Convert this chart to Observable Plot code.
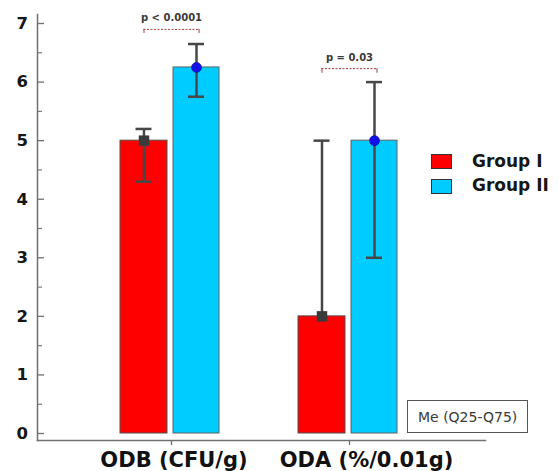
<!DOCTYPE html>
<html><head><meta charset="utf-8">
<script src="https://cdn.jsdelivr.net/npm/d3@7"></script>
<script src="https://cdn.jsdelivr.net/npm/@observablehq/plot@0.6"></script>
<style>
html,body{margin:0;padding:0;background:#fff;}
#wrap{position:relative;width:558px;height:471px;font-family:"DejaVu Sans",sans-serif;}
#wrap svg{position:absolute;left:0;top:0;}
.sw{position:absolute;width:21px;height:15px;box-sizing:border-box;border:1px solid #333;}
.lt{position:absolute;font-weight:bold;font-size:17px;line-height:1;color:#161616;white-space:nowrap;}
#me{position:absolute;left:407px;top:400px;width:121px;height:33px;box-sizing:border-box;border:1px solid #555;font-size:14px;line-height:1;color:#3a3a3a;display:flex;align-items:center;padding-left:10px;white-space:nowrap;}
</style></head><body><div id="wrap"></div>
<script>
// Categories and groups
const categories = ["ODB (CFU/g)", "ODA (%/0.01g)"];
const groups = ["Group I", "Group II"];
const groupColors = ["#ff0000", "#00ccff"];
// Group I: median and interquartile range
const medianI = [5, 2];
const q25I = [4.3, 2];
const q75I = [5.2, 5];
// Group II: median and interquartile range
const medianII = [6.25, 5];
const q25II = [5.75, 3];
const q75II = [6.65, 6];
// p-value annotations
const pLabels = ["p < 0.0001", "p = 0.03"];
const pLabelLevel = [7.1, 6.42];
const bracketTop = [6.9, 6.23];
const bracketEnd = [6.83, 6.15];
// axis ticks
const yTicks = [0, 1, 2, 3, 4, 5, 6, 7];
const yMinorTicks = [0.5, 1.5, 2.5, 3.5, 4.5, 5.5, 6.5];
const noteText = "Me (Q25-Q75)";

const rowsI = categories.map((c, i) => ({category: c, median: medianI[i], q25: q25I[i], q75: q75I[i]}));
const rowsII = categories.map((c, i) => ({category: c, median: medianII[i], q25: q25II[i], q75: q75II[i]}));
const rowsP = categories.map((c, i) => ({category: c, label: pLabels[i], level: pLabelLevel[i], top: bracketTop[i], end: bracketEnd[i]}));

const axisColor = "#707070";
const errColor = "#474747";
const bracketColor = "#a83a3a";
const lowerCap = d => d.q25 < d.median;

const chart = Plot.plot({
  width: 558, height: 471,
  marginTop: 14, marginBottom: 31, marginLeft: 37, marginRight: 73,
  style: {fontFamily: "DejaVu Sans, sans-serif", background: "white", overflow: "visible"},
  x: {type: "band", domain: categories, paddingInner: 0, paddingOuter: 0.2584, align: 0.489, axis: null},
  y: {domain: [-0.1195, 7.154], axis: null},
  marks: [
    Plot.frame({anchor: "left", stroke: axisColor, strokeWidth: 1.5}),
    Plot.frame({anchor: "bottom", stroke: axisColor, strokeWidth: 1.5}),
    Plot.axisY({ticks: yTicks, tickSize: -7, tickFormat: () => "", label: null, stroke: axisColor, strokeWidth: 1.3}),
    Plot.axisY({ticks: yMinorTicks, tickSize: -5, tickFormat: () => "", label: null, stroke: axisColor, strokeWidth: 1.1}),
    Plot.axisY({ticks: yTicks, tickSize: 0, tickPadding: 9.5, tickFormat: d => String(d), label: null, fontSize: 16.5, fontWeight: "bold", fill: "#161616"}),
    Plot.axisX({tickSize: 5, tickFormat: () => "", label: null, stroke: axisColor, strokeWidth: 1.3}),
    Plot.text([categories[0]], {x: d => d, frameAnchor: "bottom", dy: 26, dx: 2.5, lineAnchor: "bottom", fontSize: 21, fontWeight: "bold", fill: "#111"}),
    Plot.text([categories[1]], {x: d => d, frameAnchor: "bottom", dy: 26, dx: 17, lineAnchor: "bottom", fontSize: 21, fontWeight: "bold", fill: "#111"}),
    Plot.barY(rowsI, {x: "category", y: "median", fill: groupColors[0], stroke: "#505050", strokeWidth: 1, insetLeft: 38, insetRight: 93}),
    Plot.barY(rowsII, {x: "category", y: "median", fill: groupColors[1], stroke: "#606060", strokeWidth: 1, insetLeft: 91, insetRight: 41}),
    Plot.ruleX(rowsI, {x: "category", y1: "q25", y2: "q75", dx: -27.5, stroke: errColor, strokeWidth: 2.5}),
    Plot.ruleX(rowsII, {x: "category", y1: "q25", y2: "q75", dx: 25, stroke: errColor, strokeWidth: 2.5}),
    Plot.tickY(rowsI, {x: "category", y: "q75", insetLeft: 53.5, insetRight: 108.5, stroke: errColor, strokeWidth: 2.5}),
    Plot.tickY(rowsI, {x: "category", y: "q25", filter: lowerCap, insetLeft: 53.5, insetRight: 108.5, stroke: errColor, strokeWidth: 2.5}),
    Plot.tickY(rowsII, {x: "category", y: "q75", insetLeft: 106, insetRight: 56, stroke: errColor, strokeWidth: 2.5}),
    Plot.tickY(rowsII, {x: "category", y: "q25", filter: lowerCap, insetLeft: 106, insetRight: 56, stroke: errColor, strokeWidth: 2.5}),
    Plot.dot(rowsI, {x: "category", y: "median", symbol: "square", r: 5.9, fill: "#3a3a3a", dx: -27.5}),
    Plot.dot(rowsII, {x: "category", y: "median", symbol: "circle", r: 5, fill: "#1212e8", stroke: "#0a0a90", strokeWidth: 0.6, dx: 25}),
    Plot.tickY(rowsP, {x: "category", y: "top", insetLeft: 61.5, insetRight: 61.5, stroke: bracketColor, strokeWidth: 1, strokeDasharray: "2,1.5"}),
    Plot.ruleX(rowsP, {x: "category", y1: "end", y2: "top", dx: -27.5, stroke: bracketColor, strokeWidth: 1}),
    Plot.ruleX(rowsP, {x: "category", y1: "end", y2: "top", dx: 27.5, stroke: bracketColor, strokeWidth: 1}),
    Plot.text(rowsP, {x: "category", y: "level", text: "label", fontSize: 10, fontWeight: "bold", fill: "#3a3a3a"})
  ]
});

const wrap = document.getElementById("wrap");
wrap.appendChild(chart);

// legend
const legendTops = [154, 179];
const legendTextTops = [152.6, 176.6];
groups.forEach((g, i) => {
  const sw = document.createElement("div");
  sw.className = "sw";
  sw.style.left = "431px";
  sw.style.top = legendTops[i] + "px";
  sw.style.background = groupColors[i];
  wrap.appendChild(sw);
  const t = document.createElement("div");
  t.className = "lt";
  t.style.left = "472px";
  t.style.top = legendTextTops[i] + "px";
  t.textContent = g;
  wrap.appendChild(t);
});
const note = document.createElement("div");
note.id = "me";
note.textContent = noteText;
wrap.appendChild(note);
</script>
</body></html>
